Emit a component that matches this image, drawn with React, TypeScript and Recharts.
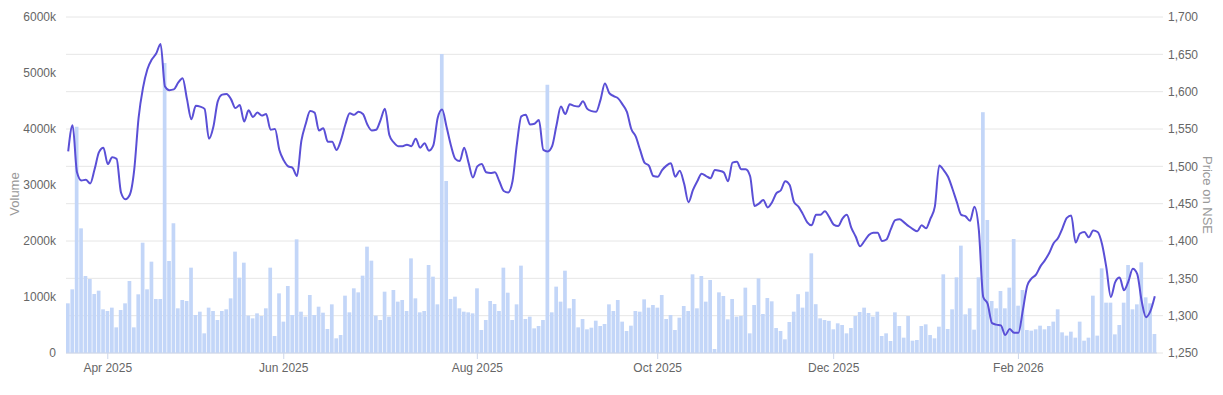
import { ComposedChart, Bar, Line, XAxis, YAxis, CartesianGrid } from "recharts";

// trading days: weekdays from 18 Mar 2025 to 18 Mar 2026, minus NSE holidays
const startDate = "2025-03-18";
const endDate = "2026-03-18";
const holidays = [
  "2025-03-31", "2025-04-10", "2025-04-14", "2025-04-18", "2025-05-01",
  "2025-08-15", "2025-08-27", "2025-10-02", "2025-10-22", "2025-11-05",
  "2025-12-25", "2026-01-15", "2026-01-26", "2026-03-03",
];

// daily volume, in thousands of shares
const volumeK = [
  887, 1137, 4040, 2226, 1375, 1321, 1054, 1113, 780, 750,
  810, 458, 768, 887, 1286, 458, 1048, 1970, 1137, 1631,
  964, 964, 5180, 1643, 2315, 798, 946, 929, 1524, 679,
  738, 351, 810, 750, 589, 750, 780, 976, 1810, 1345,
  1613, 667, 619, 708, 661, 798, 1524, 304, 1065, 560,
  1196, 679, 2030, 738, 649, 1036, 679, 827, 720, 429,
  869, 262, 321, 1024, 726, 1155, 1083, 1381, 1899, 1649,
  667, 589, 1095, 649, 1125, 917, 946, 750, 1690, 976,
  726, 750, 1571, 1363, 869, 5340, 3070, 964, 1006, 798,
  738, 726, 708, 1155, 411, 589, 929, 875, 750, 1524,
  1077, 589, 869, 1560, 607, 649, 440, 482, 589, 4790,
  726, 1185, 917, 1470, 798, 964, 458, 607, 423, 452,
  577, 482, 518, 869, 750, 946, 560, 393, 488, 750,
  738, 958, 810, 857, 810, 1036, 607, 679, 411, 631,
  839, 750, 1405, 798, 1375, 917, 1304, 71, 1083, 1018,
  601, 964, 649, 661, 1167, 351, 857, 1333, 696, 982,
  923, 446, 393, 244, 554, 738, 1050, 810, 1095, 1780,
  872, 619, 589, 574, 423, 530, 500, 351, 446, 661,
  732, 810, 714, 649, 738, 304, 351, 214, 726, 482,
  274, 661, 220, 232, 482, 512, 321, 262, 470, 1405,
  429, 780, 1351, 1917, 690, 798, 417, 1351, 4300, 2375,
  929, 798, 1107, 798, 1167, 2036, 845, 1125, 411, 399,
  423, 488, 423, 482, 560, 780, 369, 310, 381, 274,
  560, 220, 274, 1024, 310, 1512, 899, 899, 333, 500,
  899, 1571, 780, 869, 1619, 994, 887, 339,
];

// closing price on NSE
const price = [
  1520, 1555, 1492, 1481, 1482, 1477, 1496, 1519, 1525, 1503,
  1512, 1510, 1465, 1456, 1462, 1495, 1565, 1605, 1630, 1643,
  1651, 1664, 1607, 1602, 1603, 1612, 1618, 1590, 1563, 1581,
  1580, 1577, 1537, 1553, 1587, 1596, 1597, 1590, 1578, 1582,
  1560, 1575, 1566, 1572, 1568, 1570, 1549, 1550, 1522, 1508,
  1500, 1498, 1487, 1534, 1557, 1574, 1572, 1548, 1551, 1533,
  1533, 1522, 1535, 1556, 1571, 1569, 1573, 1570, 1556, 1548,
  1549, 1562, 1577, 1542, 1532, 1527, 1527, 1529, 1527, 1537,
  1525, 1531, 1521, 1528, 1565, 1576, 1553, 1528, 1510, 1507,
  1525, 1505, 1485, 1500, 1503, 1492, 1491, 1492, 1480, 1467,
  1465, 1480, 1530, 1567, 1569, 1556, 1557, 1562, 1522, 1520,
  1527, 1555, 1580, 1570, 1583, 1581, 1580, 1587, 1577, 1574,
  1573, 1589, 1611, 1598, 1594, 1591, 1583, 1573, 1550, 1540,
  1522, 1505, 1501, 1487, 1486, 1495, 1501, 1504, 1486, 1494,
  1477, 1452, 1468, 1480, 1490, 1487, 1484, 1495, 1494, 1492,
  1480, 1505, 1506, 1496, 1496, 1487, 1447, 1450, 1455, 1445,
  1452, 1464, 1468, 1480, 1475, 1452, 1446, 1436, 1425, 1421,
  1435, 1435, 1440, 1432, 1422, 1420, 1430, 1435, 1418, 1406,
  1393, 1400, 1408, 1411, 1411, 1400, 1402, 1416, 1428, 1429,
  1425, 1420, 1416, 1413, 1421, 1417, 1430, 1446, 1501, 1495,
  1486, 1470, 1452, 1435, 1433, 1427, 1446, 1415, 1325, 1316,
  1290, 1288, 1287, 1274, 1282, 1277, 1277, 1307, 1340, 1350,
  1355, 1366, 1374, 1384, 1397, 1404, 1417, 1431, 1434, 1398,
  1410, 1412, 1405, 1414, 1412, 1396, 1364, 1325, 1345, 1351,
  1334, 1346, 1363, 1356, 1320, 1298, 1306, 1326,
];

const volumeTicks = [0, 1000, 2000, 3000, 4000, 5000, 6000];
const priceTicks = [1250, 1300, 1350, 1400, 1450, 1500, 1550, 1600, 1650, 1700];
const tickMonths = ["2025-04", "2025-06", "2025-08", "2025-10", "2025-12", "2026-02"];
const monthNames = ["Jan", "Feb", "Mar", "Apr", "May", "Jun", "Jul", "Aug", "Sep", "Oct", "Nov", "Dec"];

function tradingDays() {
  const out: string[] = [];
  const d = new Date(startDate + "T00:00:00Z");
  const end = new Date(endDate + "T00:00:00Z");
  while (d <= end) {
    const iso = d.toISOString().slice(0, 10);
    const wd = d.getUTCDay();
    if (wd !== 0 && wd !== 6 && !holidays.includes(iso)) out.push(iso);
    d.setUTCDate(d.getUTCDate() + 1);
  }
  return out;
}

const dates = tradingDays();
const data = dates.map((date, i) => ({ date, volume: volumeK[i], price: price[i] }));
// first trading day of each labelled month
const xTicks = tickMonths.map((m) => dates.find((d) => d.startsWith(m)) as string);

const font = "'Liberation Sans', Arial, Helvetica, sans-serif";
const tickStyle = { fill: "#666", fontSize: 12, fontFamily: font };

const formatMonth = (d: string) => `${monthNames[Number(d.slice(5, 7)) - 1]} ${d.slice(0, 4)}`;
const formatVolume = (v: number) => (v === 0 ? "0" : `${v}k`);
const formatPrice = (v: number) => v.toLocaleString("en-US");

function VolumeTitle() {
  return (
    <text x={19} y={194} transform="rotate(-90 19 194)" textAnchor="middle" fill="#999" fontSize={13} fontFamily={font}>
      Volume
    </text>
  );
}

function PriceTitle() {
  return (
    <text x={1203} y={195} transform="rotate(90 1203 195)" textAnchor="middle" fill="#999" fontSize={13} fontFamily={font}>
      Price on NSE
    </text>
  );
}

export default function App() {
  return (
    <div style={{ position: "absolute", left: 0, top: 0, width: 1223, height: 395 }}>
      <ComposedChart
        width={1223}
        height={395}
        data={data}
        margin={{ top: 17, right: 0, bottom: 0, left: 0 }}
      >
        <CartesianGrid yAxisId="price" vertical={false} stroke="#e6e6e6" />
        <XAxis
          dataKey="date"
          ticks={xTicks}
          interval={0}
          tickFormatter={formatMonth}
          height={42}
          tick={tickStyle}
          tickSize={6}
          tickMargin={4}
          axisLine={{ stroke: "#ccd6eb" }}
          tickLine={{ stroke: "#ccd6eb" }}
        />
        <YAxis
          yAxisId="volume"
          orientation="left"
          width={66}
          domain={[0, 6000]}
          ticks={volumeTicks}
          tickFormatter={formatVolume}
          tick={tickStyle}
          axisLine={false}
          tickLine={false}
          tickSize={6}
          tickMargin={4}
          label={<VolumeTitle />}
        />
        <YAxis
          yAxisId="price"
          orientation="right"
          width={66}
          domain={[1250, 1700]}
          ticks={priceTicks}
          tickFormatter={formatPrice}
          tick={tickStyle}
          axisLine={false}
          tickLine={{ stroke: "#e6e6e6" }}
          tickSize={6}
          tickMargin={5}
          label={<PriceTitle />}
        />
        <Bar yAxisId="volume" dataKey="volume" fill="#c3d6f8" barSize={3.7} isAnimationActive={false} />
        <Line
          yAxisId="price"
          dataKey="price"
          type="monotone"
          stroke="#5a4fd6"
          strokeWidth={2}
          dot={false}
          activeDot={false}
          isAnimationActive={false}
        />
      </ComposedChart>
    </div>
  );
}
